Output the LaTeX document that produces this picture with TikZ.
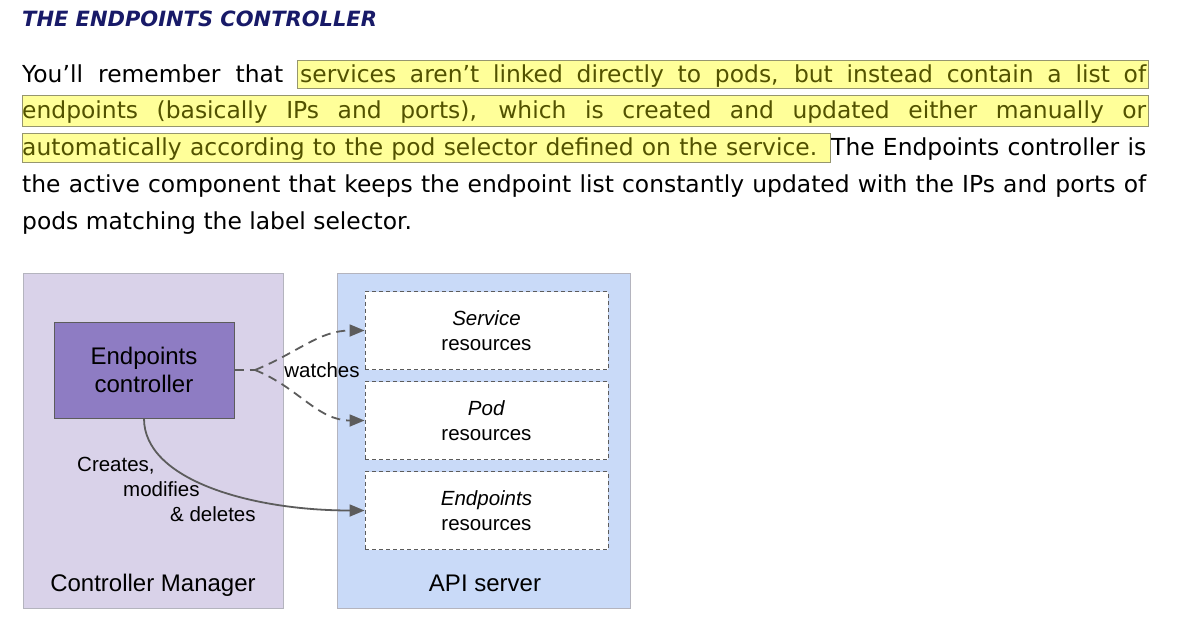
\documentclass[tikz,border=0pt]{standalone}
\usepackage{fontspec}
\setmainfont{DejaVu Sans}
\newfontfamily\figfont{Liberation Sans}
\usetikzlibrary{arrows.meta}
\definecolor{headNavy}{RGB}{24, 26, 104}
\definecolor{markYellow}{RGB}{255, 255, 153}
\definecolor{markEdge}{RGB}{150, 150, 110}
\definecolor{markText}{RGB}{82, 82, 0}
\definecolor{cmLilac}{RGB}{217, 210, 233}
\definecolor{apiBlue}{RGB}{201, 218, 248}
\definecolor{ctrlPurple}{RGB}{142, 124, 195}
\definecolor{edgeGrey}{RGB}{92, 92, 92}
\definecolor{paneEdge}{RGB}{180, 180, 190}

\tikzset{
  bodytext/.style={anchor=base west, inner sep=0pt, font=\fontsize{23.4}{28}\selectfont},
  marked/.style={draw=markEdge, fill=markYellow, line width=1pt},
  pane/.style={draw=paneEdge, line width=1pt},
  figtext/.style={inner sep=0pt, font=\figfont\fontsize{20.5}{25}\selectfont},
  resbox/.style={figtext, draw=edgeGrey, dash pattern=on 4pt off 3pt, fill=white,
    line width=0.9pt, minimum width=243pt, minimum height=78pt, align=center},
  link/.style={edgeGrey, line width=1.8pt},
  tip/.style={-{Triangle[length=15pt, width=12pt]}},
}

\begin{document}
\begin{tikzpicture}[x=1pt, y=-1pt]
  \fill[white] (0,0) rectangle (1195,621);
  \useasboundingbox (0,0) rectangle (1195,621);

  % 1. heading and text
  \node[anchor=base west, inner sep=0pt, text=headNavy,
    font=\fontsize{21}{24}\selectfont\bfseries\itshape] (head) at (22,27) {THE ENDPOINTS CONTROLLER};
  \draw[marked] (297,60) rectangle (1148,88);
  \draw[marked] (22,95) rectangle (1148,126);
  \draw[marked] (22,133) rectangle (830,162);
  \node[bodytext] (lineA) at (22,82) {\makebox[261pt][s]{You’ll remember that}};
  \node[bodytext, text=markText] (lineB) at (300,82) {\makebox[846pt][s]{services aren’t linked directly to pods, but instead contain a list of}};
  \node[bodytext, text=markText] (lineC) at (22,118) {\makebox[1124pt][s]{endpoints (basically IPs and ports), which is created and updated either manually or}};
  \node[bodytext, text=markText] (lineD) at (22,155) {\makebox[795pt][s]{automatically according to the pod selector defined on the service.}};
  \node[bodytext] (lineE) at (831,155) {\makebox[315pt][s]{The Endpoints controller is}};
  \node[bodytext] (lineF) at (22,192) {\makebox[1124pt][s]{the active component that keeps the endpoint list constantly updated with the IPs and ports of}};
  \node[bodytext] (lineG) at (22,229) {pods matching the label selector.};

  % 2. panes
  \draw[pane, fill=cmLilac] (23,273) rectangle (283,608);
  \draw[pane, fill=apiBlue] (337,273) rectangle (630,608);
  \node[figtext, anchor=base, font=\figfont\fontsize{24}{28}\selectfont] (cmLbl) at (153,591) {Controller Manager};
  \node[figtext, anchor=base, font=\figfont\fontsize{24}{28}\selectfont] (apiLbl) at (485,591) {API server};

  % 3. controller and resources
  \node[draw=edgeGrey, line width=1pt, fill=ctrlPurple, minimum width=180pt, minimum height=96pt,
    align=center, inner sep=0pt, font=\figfont\fontsize{24}{28}\selectfont] (ctrl) at (144,370) {Endpoints\\controller};
  \node[resbox] (svcRes) at (486.5,330.5) {\textit{Service}\\resources};
  \node[resbox] (podRes) at (486.5,420.5) {\textit{Pod}\\resources};
  \node[resbox] (epRes) at (486.5,510.5) {\textit{Endpoints}\\resources};

  % 4. watches
  \coordinate (fork) at (255,370);
  \draw[link, dash pattern=on 9pt off 6pt] (ctrl.east) -- (fork);
  \draw[link, tip, dash pattern=on 9pt off 6pt] (fork) to[out=22, in=180] (svcRes.west);
  \draw[link, tip, dash pattern=on 9pt off 6pt] (fork) to[out=-22, in=180] (podRes.west);
  \node[figtext, anchor=base] (watchLbl) at (322,377) {watches};

  % 5. creates, modifies & deletes
  \draw[link, tip] (ctrl.south) .. controls +(0,62) and +(-112,0) .. (epRes.west);
  \node[figtext, anchor=base west] (crLbl) at (77,471) {Creates,};
  \node[figtext, anchor=base west] (modLbl) at (123,496) {modifies};
  \node[figtext, anchor=base west] (delLbl) at (170,521) {\& deletes};
\end{tikzpicture}
\end{document}
